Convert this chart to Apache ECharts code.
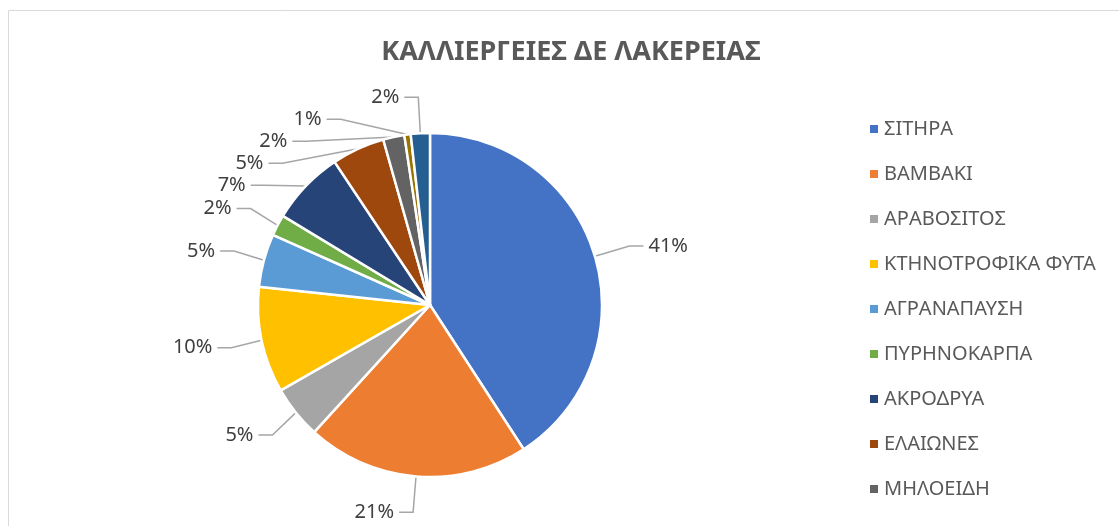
<!DOCTYPE html>
<html>
<head>
<meta charset="utf-8">
<title>ΚΑΛΛΙΕΡΓΕΙΕΣ ΔΕ ΛΑΚΕΡΕΙΑΣ</title>
<script src="https://cdn.jsdelivr.net/npm/echarts@6/dist/echarts.min.js"></script>
<style>
  html, body { margin: 0; padding: 0; background: #fff; }
  #main { width: 1119px; height: 526px; }
</style>
</head>
<body>
<div id="main"></div>
<script>
  // κατηγορίες και ποσοστά (%) όπως διαβάζονται από το γράφημα
  var categories = ['ΣΙΤΗΡΑ', 'ΒΑΜΒΑΚΙ', 'ΑΡΑΒΟΣΙΤΟΣ', 'ΚΤΗΝΟΤΡΟΦΙΚΑ ΦΥΤΑ', 'ΑΓΡΑΝΑΠΑΥΣΗ',
    'ΠΥΡΗΝΟΚΑΡΠΑ', 'ΑΚΡΟΔΡΥΑ', 'ΕΛΑΙΩΝΕΣ', 'ΜΗΛΟΕΙΔΗ', 'ΛΟΙΠΑ 1', 'ΛΟΙΠΑ 2'];
  var values = [41, 21, 5, 10, 5, 2, 7, 5, 2, 0.6, 1.8];
  var colors = ['#4472C4', '#ED7D31', '#A5A5A5', '#FFC000', '#5B9BD5',
    '#70AD47', '#264478', '#9E480E', '#636363', '#997300', '#255E91'];
  // το υπόμνημα χωράει μόνο τις 9 πρώτες
  var legendNames = categories.slice(0, 9);

  var font = '"Noto Sans", "DejaVu Sans", sans-serif';
  var myChart = echarts.init(document.getElementById('main'));

  myChart.setOption({
    animation: false,
    color: colors,
    title: {
      text: 'ΚΑΛΛΙΕΡΓΕΙΕΣ ΔΕ ΛΑΚΕΡΕΙΑΣ',
      left: 566,
      textAlign: 'center',
      top: 34,
      textStyle: { fontFamily: font, fontSize: 27, fontWeight: 'bold', color: '#595959' }
    },
    legend: {
      orient: 'vertical',
      left: 863,
      top: 113,
      data: legendNames,
      icon: 'rect',
      itemWidth: 10,
      itemHeight: 10,
      itemGap: 23,
      textStyle: { fontFamily: font, fontSize: 20, color: '#595959', lineHeight: 22 }
    },
    graphic: [{
      type: 'polyline',
      shape: { points: [[1130, 10.5], [8.5, 10.5], [8.5, 540]] },
      style: { stroke: '#D9D9D9', lineWidth: 1, fill: null }
    }],
    series: [{
      type: 'pie',
      center: [430, 305],
      radius: 172,
      startAngle: 90,
      clockwise: true,
      avoidLabelOverlap: true,
      itemStyle: { borderColor: '#fff', borderWidth: 2.5 },
      label: {
        show: true,
        formatter: function (p) { return Math.round(values[p.dataIndex]) + '%'; },
        fontFamily: font,
        fontSize: 20,
        color: '#404040'
      },
      labelLine: {
        show: true,
        length: 36,
        length2: 14,
        lineStyle: { color: '#A6A6A6', width: 1.5 }
      },
      data: categories.map(function (c, i) { return { name: c, value: values[i] }; })
    }]
  });
</script>
</body>
</html>
